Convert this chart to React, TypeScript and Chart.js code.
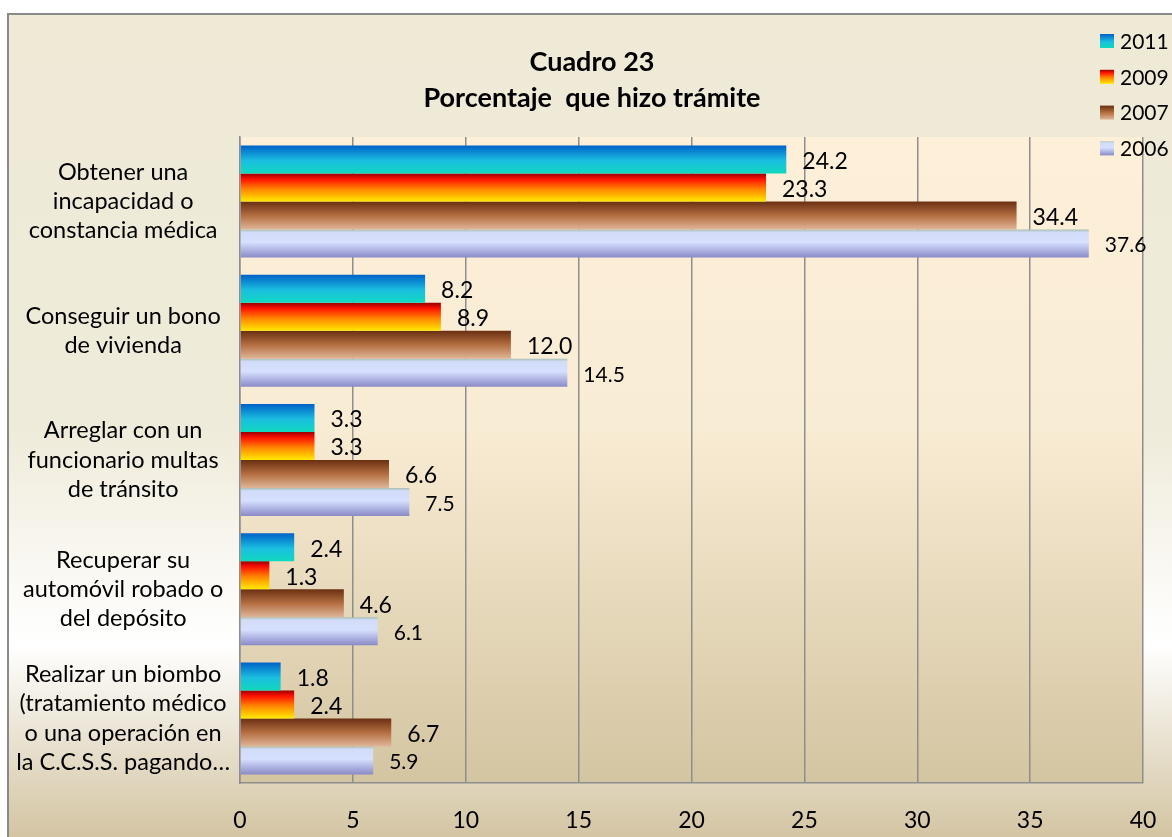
import React, { useEffect, useRef } from 'react';
import { Chart, registerables } from 'chart.js';

Chart.register(...registerables);

// ---------- data ----------
const categories: string[][] = [
  ['Obtener una', 'incapacidad o', 'constancia médica'],
  ['Conseguir un bono', 'de vivienda'],
  ['Arreglar con un', 'funcionario multas', 'de tránsito'],
  ['Recuperar su', 'automóvil robado o', 'del depósito'],
  ['Realizar un biombo', '(tratamiento médico', 'o una operación en', 'la C.C.S.S. pagando…'],
];
const seriesNames = ['2011', '2009', '2007', '2006'];
const values2011 = [24.2, 8.2, 3.3, 2.4, 1.8];
const values2009 = [23.3, 8.9, 3.3, 1.3, 2.4];
const values2007 = [34.4, 12.0, 6.6, 4.6, 6.7];
const values2006 = [37.6, 14.5, 7.5, 6.1, 5.9];
const xMin = 0;
const xMax = 40;
const xStep = 5;
const titleLines = ['Cuadro 23', 'Porcentaje  que hizo trámite'];

// ---------- styles ----------
const FONT = "Lato, 'Open Sans', sans-serif";
const W = 1172;
const H = 830;
const GRID = '#8E8E8E';

const barStops: [number, string][][] = [
  [[0, '#0062C8'], [0.55, '#1BBFE0'], [1, '#10D8BE']],
  [[0, '#990000'], [0.2, '#FF1200'], [0.55, '#FF8400'], [1, '#FFEA00']],
  [[0, '#6A2F12'], [0.5, '#B46E40'], [1, '#DEB699']],
  [[0, '#A7BFB5'], [0.1, '#D2DCF8'], [0.45, '#D6E0FF'], [1, '#8A8AC6']],
];
const solidColors = ['#1AA0DA', '#FF6000', '#B06A3C', '#C4CCF2'];

function makeGrad(ctx: CanvasRenderingContext2D, top: number, bottom: number, stops: [number, string][]) {
  const g = ctx.createLinearGradient(0, top, 0, bottom);
  stops.forEach(([o, c]) => g.addColorStop(o, c));
  return g;
}

const backgroundPlugin = {
  id: 'bgPlugin',
  beforeDraw(chart: any) {
    const { ctx, width, height, chartArea: a } = chart;
    ctx.save();
    ctx.fillStyle = makeGrad(ctx, 0, height, [
      [0, '#EEEAD6'],
      [0.5, '#EFEBDA'],
      [0.76, '#FFFFFF'],
      [1, '#D2C3A0'],
    ]);
    ctx.fillRect(0, 0, width, height);
    if (a) {
      ctx.fillStyle = makeGrad(ctx, a.top, a.bottom, [
        [0, '#FDEFD8'],
        [0.45, '#F9ECD4'],
        [1, '#D3C5A1'],
      ]);
      ctx.fillRect(a.left, a.top, a.right - a.left, a.bottom - a.top);
    }
    ctx.strokeStyle = '#898989';
    ctx.lineWidth = 2;
    ctx.beginPath();
    ctx.moveTo(1, height);
    ctx.lineTo(1, 1);
    ctx.lineTo(width, 1);
    ctx.stroke();
    // title, centred on the full chart width
    ctx.fillStyle = '#000';
    ctx.font = `bold 27px ${FONT}`;
    ctx.textAlign = 'center';
    ctx.textBaseline = 'middle';
    titleLines.forEach((line, i) => ctx.fillText(line, width / 2 - 1, 49 + i * 36));
    ctx.restore();
  },
};

const barGradientPlugin = {
  id: 'barGradient',
  beforeDatasetsDraw(chart: any) {
    chart.data.datasets.forEach((_ds: any, i: number) => {
      const meta = chart.getDatasetMeta(i);
      meta.data.forEach((el: any) => {
        const p = el.getProps(['y', 'height'], true);
        const top = p.y - p.height / 2;
        el.options = Object.assign({}, el.options, {
          backgroundColor: makeGrad(chart.ctx, top, top + p.height, barStops[i]),
        });
      });
    });
  },
};

const dataLabelPlugin = {
  id: 'dataLabels',
  afterDatasetsDraw(chart: any) {
    const ctx = chart.ctx;
    ctx.save();
    ctx.textAlign = 'left';
    ctx.textBaseline = 'middle';
    ctx.fillStyle = '#000';
    chart.data.datasets.forEach((ds: any, i: number) => {
      ctx.font = `${i === 3 ? 21 : 23}px ${FONT}`;
      const meta = chart.getDatasetMeta(i);
      meta.data.forEach((el: any, j: number) => {
        const p = el.getProps(['x', 'y'], true);
        ctx.fillText(Number(ds.data[j]).toFixed(1), p.x + 16, p.y + 2);
      });
    });
    ctx.restore();
  },
};

const legendPlugin = {
  id: 'customLegend',
  afterDraw(chart: any) {
    const ctx = chart.ctx;
    const boxX = 1093;
    const firstY = 28;
    const step = 35.8;
    const box = 14;
    ctx.save();
    ctx.font = `21px ${FONT}`;
    ctx.textAlign = 'left';
    ctx.textBaseline = 'middle';
    seriesNames.forEach((name, i) => {
      const cy = firstY + i * step;
      ctx.fillStyle = makeGrad(ctx, cy - box / 2, cy + box / 2, barStops[i]);
      ctx.fillRect(boxX, cy - box / 2, box, box);
      ctx.fillStyle = '#000';
      ctx.fillText(name, boxX + box + 6, cy + 1);
    });
    ctx.restore();
  },
};

export default function App() {
  const ref = useRef<HTMLCanvasElement>(null);

  useEffect(() => {
    if (!ref.current) return;
    const series = [values2011, values2009, values2007, values2006];
    const chart = new Chart(ref.current, {
      type: 'bar',
      data: {
        labels: categories as any,
        datasets: series.map((vals, i) => ({
          label: seriesNames[i],
          data: vals,
          backgroundColor: () => solidColors[i],
          borderWidth: 0,
          categoryPercentage: 0.867,
          barPercentage: 1,
        })),
      },
      options: {
        indexAxis: 'y',
        responsive: false,
        animation: false,
        devicePixelRatio: 1,
        layout: { padding: { top: 124, left: 0, right: 36, bottom: 0 } },
        plugins: {
          legend: { display: false },
          tooltip: { enabled: false },
          title: { display: false },
        },
        scales: {
          x: {
            type: 'linear',
            min: xMin,
            max: xMax,
            ticks: {
              stepSize: xStep,
              color: '#000',
              font: { family: FONT, size: 23, lineHeight: 1.4 },
              padding: 21,
            },
            grid: { color: GRID, lineWidth: 1.5, drawTicks: false },
            border: { display: true, color: GRID, width: 1.5 },
            afterFit: (s: any) => {
              s.height = 60;
            },
          },
          y: {
            type: 'category',
            ticks: {
              color: '#000',
              font: { family: FONT, size: 23.5, lineHeight: 1.24 },
              crossAlign: 'center',
              padding: 2,
              autoSkip: false,
            },
            grid: { display: false },
            border: { display: true, color: GRID, width: 1.5 },
            afterFit: (s: any) => {
              s.width = 233;
            },
          },
        },
      } as any,
      plugins: [backgroundPlugin, barGradientPlugin, dataLabelPlugin, legendPlugin],
    });
    return () => chart.destroy();
  }, []);

  return (
    <div style={{ position: 'absolute', left: 7, top: 13, width: 1165, height: 824, overflow: 'hidden' }}>
      <canvas ref={ref} width={W} height={H} style={{ width: W, height: H, display: 'block' }} />
    </div>
  );
}
